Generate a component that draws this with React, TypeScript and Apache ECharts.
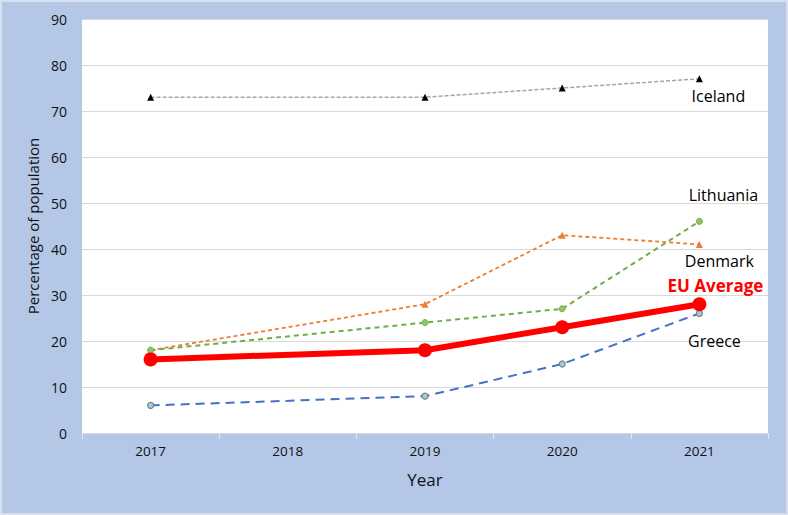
import React, { useEffect, useRef } from "react";
import * as echarts from "echarts";

const years = ["2017", "2018", "2019", "2020", "2021"];
const iceland = [73, null, 73, 75, 77];
const denmark = [18, null, 28, 43, 41];
const lithuania = [18, null, 24, 27, 46];
const euAverage = [16, null, 18, 23, 28];
const greece = [6, null, 8, 15, 26];

const FONT = "'Open Sans', 'Liberation Sans', sans-serif";

function withEndLabel(values: (number | null)[], text: string, label: any) {
  return values.map((v, i) =>
    i === values.length - 1
      ? { value: v, label: { show: true, formatter: text, fontFamily: FONT, ...label } }
      : v
  );
}

export default function App() {
  const ref = useRef<HTMLDivElement>(null);
  useEffect(() => {
    if (!ref.current) return;
    const chart = echarts.init(ref.current, undefined, { renderer: "svg" });
    chart.setOption({
      animation: false,
      backgroundColor: "#b4c7e7",
      grid: {
        left: 82,
        right: 20,
        top: 19,
        bottom: 82,
        show: true,
        backgroundColor: "#ffffff",
        borderWidth: 0,
      },
      xAxis: {
        type: "category",
        data: years,
        boundaryGap: true,
        name: "Year",
        nameLocation: "middle",
        nameGap: 38,
        nameTextStyle: { fontFamily: FONT, fontSize: 17, color: "#111" },
        axisLine: { show: false },
        axisTick: { show: true, length: 6, lineStyle: { color: "#dfe6f2", width: 1 } },
        axisLabel: { fontFamily: FONT, fontSize: 13.5, color: "#111", margin: 11 },
      },
      yAxis: {
        type: "value",
        min: 0,
        max: 90,
        interval: 10,
        name: "Percentage of population",
        nameLocation: "middle",
        nameGap: 38,
        nameTextStyle: { fontFamily: FONT, fontSize: 15, color: "#111" },
        axisLine: { show: false },
        axisTick: { show: false },
        axisLabel: { fontFamily: FONT, fontSize: 14, color: "#111", margin: 15 },
        splitLine: { lineStyle: { color: "#d9d9d9", width: 1 } },
      },
      series: [
        {
          name: "Iceland",
          type: "line",
          connectNulls: true,
          data: withEndLabel(iceland, "Iceland", { position: "bottom", offset: [19, 1], fontSize: 16, color: "#000" }),
          symbol: "triangle",
          symbolSize: 7,
          itemStyle: { color: "#000" },
          lineStyle: { color: "#a5a5a5", width: 1.5, type: [4, 2] },
          z: 2,
        },
        {
          name: "Denmark",
          type: "line",
          connectNulls: true,
          data: withEndLabel(denmark, "Denmark", { position: "bottom", offset: [20, 0], fontSize: 16, color: "#000" }),
          symbol: "triangle",
          symbolSize: 7,
          itemStyle: { color: "#ed7d31" },
          lineStyle: { color: "#ed7d31", width: 1.8, type: [4, 3] },
          z: 3,
        },
        {
          name: "Lithuania",
          type: "line",
          connectNulls: true,
          data: withEndLabel(lithuania, "Lithuania", { position: "top", offset: [24, -10], fontSize: 16, color: "#000" }),
          symbol: "circle",
          symbolSize: 6,
          itemStyle: { color: "#8fc46a", borderColor: "#70ad47", borderWidth: 1 },
          lineStyle: { color: "#70ad47", width: 2, type: [5, 4] },
          z: 3,
        },
        {
          name: "Greece",
          type: "line",
          connectNulls: true,
          data: withEndLabel(greece, "Greece", { position: "bottom", offset: [15, 11], fontSize: 16, color: "#000" }),
          symbol: "circle",
          symbolSize: 6,
          itemStyle: { color: "#b4c3e3", borderColor: "#6a8a7a", borderWidth: 1.2 },
          lineStyle: { color: "#4472c4", width: 2, type: [9, 6] },
          z: 3,
        },
        {
          name: "EU Average",
          type: "line",
          connectNulls: true,
          data: withEndLabel(euAverage, "EU Average", { position: "top", offset: [16, 2], fontSize: 17, fontWeight: "bold", color: "#ff0000" }),
          symbol: "circle",
          symbolSize: 14,
          itemStyle: { color: "#ff0000" },
          lineStyle: { color: "#ff0000", width: 6 },
          z: 4,
        },
      ],
    });
    return () => chart.dispose();
  }, []);
  return (
    <div style={{ position: "fixed", left: 0, top: 0, width: 788, height: 515 }}>
      <div ref={ref} style={{ width: 788, height: 515 }} />
      <div
        style={{
          position: "absolute",
          left: 0,
          top: 0,
          width: 788,
          height: 515,
          boxSizing: "border-box",
          border: "2px solid #d6e0f0",
          pointerEvents: "none",
        }}
      />
    </div>
  );
}
